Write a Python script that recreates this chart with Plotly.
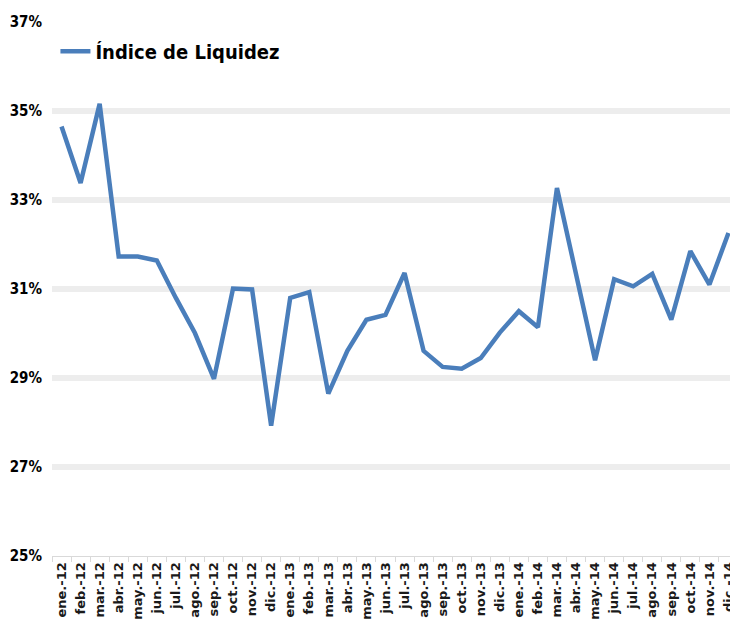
import plotly.graph_objects as go

months = ["ene.", "feb.", "mar.", "abr.", "may.", "jun.", "jul.", "ago.", "sep.", "oct.", "nov.", "dic."]
categories = [f"{m}-{y}" for y in ("12", "13", "14") for m in months]

indice = [34.65, 33.38, 35.16, 31.73, 31.73, 31.64, 30.80, 30.01, 28.98, 31.01, 30.99, 27.93,
          30.80, 30.93, 28.65, 29.61, 30.31, 30.42, 31.36, 29.61, 29.25, 29.21, 29.45, 30.02,
          30.50, 30.14, 33.27, 31.32, 29.40, 31.22, 31.06, 31.34, 30.31, 31.85, 31.10, 32.26]

y_ticks = [25, 27, 29, 31, 33, 35, 37]
y_labels = [f"{v}%" for v in y_ticks]

narrow = "Liberation Sans Narrow, DejaVu Sans Condensed, Arial Narrow, sans-serif"

fig = go.Figure()
fig.add_trace(go.Scatter(
    x=categories, y=indice, mode="lines", name="Índice de Liquidez",
    line=dict(color="#4A7EBB", width=4.5),
))

fig.update_layout(
    width=730, height=622,
    margin=dict(l=44, r=0, t=14, b=74, autoexpand=False),
    paper_bgcolor="white", plot_bgcolor="white",
    showlegend=True,
    legend=dict(x=0.005, y=0.945, xanchor="left", yanchor="middle",
                bgcolor="rgba(0,0,0,0)",
                font=dict(family=narrow, size=20, color="black", weight="bold")),
    font=dict(family="DejaVu Sans, Verdana, sans-serif"),
)

fig.update_xaxes(
    type="category", categoryorder="array", categoryarray=categories,
    range=[-0.5, len(categories) - 0.5],
    tickangle=-90, tickson="boundaries", ticks="outside", ticklen=5, tickcolor="#D9D9D9",
    showline=True, linecolor="#D9D9D9", linewidth=1, showgrid=False, zeroline=False,
    tickfont=dict(family="DejaVu Sans, Verdana, sans-serif", size=13, color="#1a1a1a", weight="bold"),
    automargin=False,
)
fig.update_yaxes(
    range=[25, 37], tickvals=y_ticks, ticktext=y_labels,
    showgrid=True, gridcolor="#EDEDED", gridwidth=6, zeroline=False, showline=False,
    ticks="", ticklabelstandoff=9,
    tickfont=dict(family=narrow, size=15, color="black", weight="bold"),
    automargin=False,
)

fig.write_html("out.html")
